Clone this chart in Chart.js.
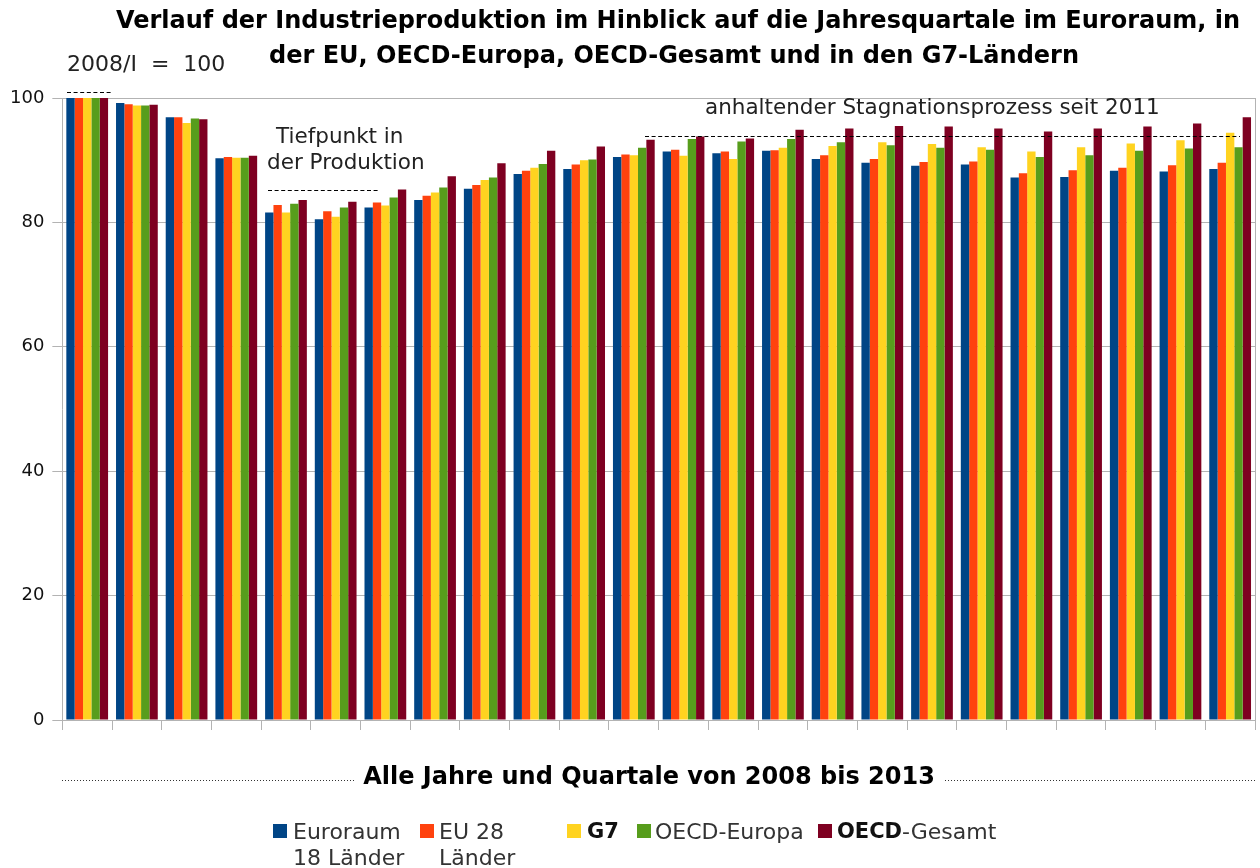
<!DOCTYPE html>
<html>
<head>
<meta charset="utf-8">
<script src="https://cdn.jsdelivr.net/npm/chart.js@4.4.1/dist/chart.umd.min.js"></script>
<style>
  html, body { margin: 0; padding: 0; background: #fff; }
  #wrap { width: 1260px; height: 868px; }
</style>
</head>
<body>
<div id="wrap"><canvas id="myChart" width="1260" height="868"></canvas></div>
<script>
const quarters = [
  "2008/I", "2008/II", "2008/III", "2008/IV",
  "2009/I", "2009/II", "2009/III", "2009/IV",
  "2010/I", "2010/II", "2010/III", "2010/IV",
  "2011/I", "2011/II", "2011/III", "2011/IV",
  "2012/I", "2012/II", "2012/III", "2012/IV",
  "2013/I", "2013/II", "2013/III", "2013/IV"
];
const euroraum   = [100, 99.2, 96.9, 90.3, 81.6, 80.5, 82.4, 83.6, 85.4, 87.8, 88.6, 90.5, 91.4, 91.1, 91.5, 90.2, 89.6, 89.1, 89.3, 87.2, 87.3, 88.3, 88.2, 88.6];
const eu28       = [100, 99.0, 96.9, 90.5, 82.8, 81.8, 83.2, 84.3, 86.0, 88.3, 89.3, 90.9, 91.7, 91.4, 91.6, 90.8, 90.2, 89.7, 89.8, 87.9, 88.4, 88.8, 89.2, 89.6];
const g7         = [100, 98.8, 96.0, 90.4, 81.6, 80.9, 82.7, 84.8, 86.8, 88.8, 90.0, 90.8, 90.7, 90.2, 92.0, 92.3, 92.9, 92.6, 92.1, 91.4, 92.1, 92.7, 93.2, 94.4];
const oecdEuropa = [100, 98.8, 96.7, 90.4, 83.0, 82.4, 84.0, 85.6, 87.2, 89.4, 90.1, 92.0, 93.4, 93.0, 93.4, 92.9, 92.4, 92.0, 91.7, 90.5, 90.8, 91.5, 91.9, 92.1];
const oecdGesamt = [100, 98.9, 96.6, 90.7, 83.6, 83.3, 85.3, 87.4, 89.5, 91.5, 92.2, 93.3, 93.8, 93.5, 94.9, 95.1, 95.5, 95.4, 95.1, 94.6, 95.1, 95.4, 95.9, 96.9];
const yTicks = [0, 20, 40, 60, 80, 100];

const colors = ["#004586", "#ff420e", "#ffd320", "#579d1c", "#7e0021"];
const FONT = '"DejaVu Sans", sans-serif';

// title, notes, axis title and legend are drawn by hand
const annotations = {
  id: "annotations",
  afterDraw(chart) {
    const ctx = chart.ctx;
    const area = chart.chartArea;
    ctx.save();
    ctx.fillStyle = "#000";
    ctx.textBaseline = "middle";

    // title
    ctx.textAlign = "center";
    ctx.font = "bold 24px " + FONT;
    ctx.fillText("Verlauf der Industrieproduktion im Hinblick auf die Jahresquartale im Euroraum, in", 678, 22);
    ctx.fillText("der EU, OECD-Europa, OECD-Gesamt und in den G7-Ländern", 674, 57);

    // right frame line
    ctx.strokeStyle = "#b3b3b3";
    ctx.lineWidth = 1;
    ctx.beginPath();
    ctx.moveTo(area.right + 0.5, area.top);
    ctx.lineTo(area.right + 0.5, area.bottom);
    ctx.stroke();

    // notes
    ctx.fillStyle = "#222";
    ctx.textAlign = "left";
    ctx.font = "22px " + FONT;
    ctx.fillText("2008/I  =  100", 67, 65);
    ctx.font = "21.5px " + FONT;
    ctx.fillText("Tiefpunkt in", 276, 137);
    ctx.fillText("der Produktion", 267, 163);
    ctx.fillText("anhaltender Stagnationsprozess seit 2011", 705, 108);

    ctx.strokeStyle = "#000";
    ctx.setLineDash([4, 2.6]);
    const dash = (x1, x2, y) => {
      ctx.beginPath();
      ctx.moveTo(x1, y + 0.5);
      ctx.lineTo(x2, y + 0.5);
      ctx.stroke();
    };
    dash(67, 113, 92);
    dash(268, 380, 190);
    dash(645, 1240, 136);

    // x axis title with dotted lines
    ctx.fillStyle = "#000";
    ctx.textAlign = "center";
    ctx.font = "bold 24px " + FONT;
    ctx.fillText("Alle Jahre und Quartale von 2008 bis 2013", 649, 778);
    ctx.setLineDash([1, 2]);
    ctx.strokeStyle = "#333";
    dash(62, 355, 780);
    dash(945, 1255, 780);
    ctx.setLineDash([]);

    // legend
    const items = [
      { sq: 273, tx: 293, lines: [["Euroraum"], ["18 Länder"]] },
      { sq: 420, tx: 439, lines: [["EU 28"], ["Länder"]] },
      { sq: 567, tx: 587, lines: [["G7", true]] },
      { sq: 637, tx: 655, lines: [["OECD-Europa"]] },
      { sq: 818, tx: 837, lines: [["OECD", true, "-Gesamt"]] }
    ];
    ctx.textAlign = "left";
    items.forEach((it, i) => {
      ctx.fillStyle = colors[i];
      ctx.fillRect(it.sq, 824, 14, 14);
      it.lines.forEach((ln, j) => {
        const y = 833 + j * 26;
        let x = it.tx;
        if (ln[1] === true) {
          ctx.font = "bold 21px " + FONT;
          ctx.fillStyle = "#111";
          ctx.fillText(ln[0], x, y);
          x += ctx.measureText(ln[0]).width;
          if (ln[2]) {
            ctx.font = "22px " + FONT;
            ctx.fillStyle = "#333";
            ctx.fillText(ln[2], x, y);
          }
        } else {
          ctx.font = "22px " + FONT;
          ctx.fillStyle = "#333";
          ctx.fillText(ln[0], x, y);
        }
      });
    });
    ctx.restore();
  }
};

const series = [
  ["Euroraum 18 Länder", euroraum],
  ["EU 28 Länder", eu28],
  ["G7", g7],
  ["OECD-Europa", oecdEuropa],
  ["OECD-Gesamt", oecdGesamt]
];

const ctx = document.getElementById("myChart").getContext("2d");
new Chart(ctx, {
  type: "bar",
  data: {
    labels: quarters,
    datasets: series.map((s, i) => ({
      label: s[0],
      data: s[1],
      backgroundColor: colors[i],
      borderWidth: 0,
      categoryPercentage: 0.84,
      barPercentage: 1.0
    }))
  },
  options: {
    responsive: false,
    animation: false,
    devicePixelRatio: 1,
    layout: { padding: { top: 98, right: 5, bottom: 138, left: 2 } },
    plugins: {
      legend: { display: false },
      title: { display: false },
      tooltip: { enabled: false }
    },
    scales: {
      x: {
        ticks: { display: false },
        grid: { drawOnChartArea: false, drawTicks: true, tickLength: 10, color: "#b3b3b3", offset: true },
        border: { color: "#b3b3b3" }
      },
      y: {
        min: 0,
        max: 100,
        afterBuildTicks: (axis) => { axis.ticks = yTicks.map(v => ({ value: v })); },
        ticks: { color: "#111", font: { family: FONT, size: 18 }, padding: 8 },
        grid: { color: "#b3b3b3", tickLength: 10 },
        border: { color: "#b3b3b3" }
      }
    }
  },
  plugins: [annotations]
});
</script>
</body>
</html>
